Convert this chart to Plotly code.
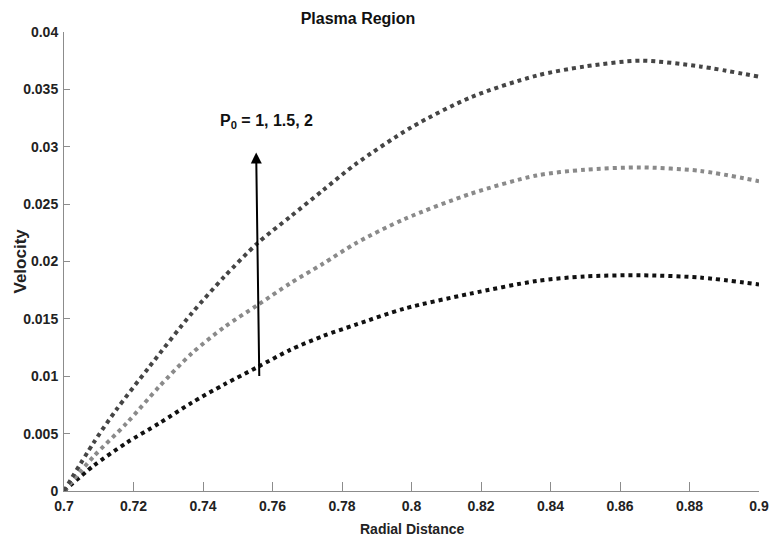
import plotly.graph_objects as go

# P0 = 2 (top curve)
r_top = [0.700, 0.7085, 0.7151, 0.7245, 0.7368, 0.7462, 0.7557, 0.7651, 0.7745, 0.784,
         0.800, 0.817, 0.836, 0.850, 0.866, 0.883, 0.900]
v_top = [0.0000, 0.0042, 0.0071, 0.0108, 0.0155, 0.0187, 0.0216, 0.0239, 0.0262, 0.0285,
         0.0317, 0.0343, 0.0362, 0.0370, 0.0375, 0.0370, 0.0361]

# P0 = 1.5 (middle curve)
r_mid = [0.700, 0.7085, 0.718, 0.7274, 0.7368, 0.7462, 0.7557, 0.7651, 0.7745, 0.784,
         0.798, 0.817, 0.836, 0.850, 0.866, 0.883, 0.900]
v_mid = [0.0000, 0.0030, 0.0059, 0.0091, 0.0120, 0.0143, 0.0162, 0.0181, 0.0198, 0.0216,
         0.0237, 0.0259, 0.0275, 0.0280, 0.0282, 0.0279, 0.0270]

# P0 = 1 (bottom curve)
r_bot = [0.700, 0.7085, 0.718, 0.7274, 0.7368, 0.7462, 0.7557, 0.7651, 0.7745, 0.784,
         0.798, 0.817, 0.836, 0.850, 0.866, 0.883, 0.900]
v_bot = [0.0000, 0.0022, 0.0042, 0.0059, 0.0077, 0.0093, 0.0108, 0.0123, 0.0135, 0.0145,
         0.0159, 0.0172, 0.0183, 0.0187, 0.0188, 0.0186, 0.0180]

x_ticks = [0.7, 0.72, 0.74, 0.76, 0.78, 0.8, 0.82, 0.84, 0.86, 0.88, 0.9]
x_ticktext = ["0.7", "0.72", "0.74", "0.76", "0.78", "0.8", "0.82", "0.84", "0.86", "0.88", "0.9"]
y_ticks = [0, 0.005, 0.01, 0.015, 0.02, 0.025, 0.03, 0.035, 0.04]
y_ticktext = ["0", "0.005", "0.01", "0.015", "0.02", "0.025", "0.03", "0.035", "0.04"]

FONT = "Liberation Sans, Arial, Helvetica, sans-serif"

# page body has an 8px default margin, so the figure is sized to fit the window
W, H = 771, 536

fig = go.Figure()
series = [
    (r_bot, v_bot, "#111111", "P0 = 1"),
    (r_mid, v_mid, "#8a8a8a", "P0 = 1.5"),
    (r_top, v_top, "#454545", "P0 = 2"),
]
for rx, vy, col, name in series:
    fig.add_trace(go.Scatter(
        x=rx, y=vy, mode="lines", name=name,
        line=dict(color=col, width=4, dash="4px,4px", shape="spline", smoothing=0.8),
        showlegend=False,
    ))

axis_common = dict(
    showline=True, linecolor="#8c8c8c", linewidth=1,
    ticks="inside", tickcolor="#8c8c8c", tickwidth=1,
    showgrid=False, zeroline=False, mirror=False,
    ticklabeloverflow="allow",
    tickfont=dict(family=FONT, size=14, color="#222222", weight="bold"),
)

fig.update_xaxes(range=[0.7, 0.9], tickvals=x_ticks, ticktext=x_ticktext, ticklen=9,
                 ticklabelstandoff=2, **axis_common)
fig.update_yaxes(range=[0, 0.04], tickvals=y_ticks, ticktext=y_ticktext, ticklen=6,
                 ticklabelstandoff=2, **axis_common)

fig.add_annotation(
    x=0.7553, y=0.0295, ax=0.7562, ay=0.0099, xref="x", yref="y", axref="x", ayref="y",
    showarrow=True, arrowhead=2, arrowsize=1.1, arrowwidth=2, arrowcolor="#000000", text="",
)
fig.add_annotation(
    x=0.7584, y=0.0322, xref="x", yref="y", showarrow=False,
    text="<b>P<sub>0</sub> = 1, 1.5, 2</b>",
    font=dict(family=FONT, size=16, color="#111111"),
)
fig.add_annotation(
    x=0.5, y=0, xref="paper", yref="paper", yanchor="middle", yshift=-38, showarrow=False,
    text="<b>Radial Distance</b>", font=dict(family=FONT, size=14, color="#222222"),
)
fig.add_annotation(
    x=0, y=0.5, xref="paper", yref="paper", xanchor="center", xshift=-44, showarrow=False,
    textangle=-90, text="<b>Velocity</b>", font=dict(family=FONT, size=17, color="#222222"),
)

fig.update_layout(
    width=W, height=H,
    margin=dict(l=56, r=10, t=24, b=53),
    paper_bgcolor="white", plot_bgcolor="white",
    title=dict(text="<b>Plasma Region</b>", x=350 / W, xref="container", xanchor="center",
               y=1 - 10 / H, yref="container", yanchor="middle",
               font=dict(family=FONT, size=16, color="#111111")),
    font=dict(family=FONT),
)

fig.write_html("out.html")
